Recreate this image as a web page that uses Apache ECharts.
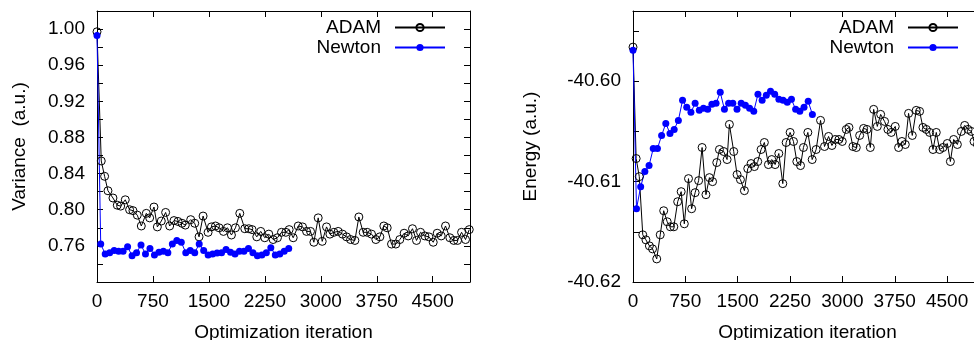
<!DOCTYPE html>
<html><head><meta charset="utf-8">
<script src="https://cdn.jsdelivr.net/npm/echarts@6/dist/echarts.min.js"></script>
<style>html,body{margin:0;padding:0;background:#fff}#c{width:974px;height:340px}</style>
</head><body><div id="c"></div>
<script>
// ---- data ----
const seriesNames = ['ADAM', 'Newton'];
const xTickLabels = [0, 750, 1500, 2250, 3000, 3750, 4500];
const varTickLabels = [0.76, 0.80, 0.84, 0.88, 0.92, 0.96, 1.00];
const enTickLabels = [-40.62, -40.61, -40.60];

// Left panel: variance
const adamVarIter = [0,57,102,147,214,272,317,379,437,482,540,594,661,706,764,809,862,920,974,1032,1086,1140,1184,1256,1310,1368,1422,1489,1534,1588,1637,1695,1749,1802,1856,1914,1981,2035,2079,2142,2195,2249,2303,2361,2419,2473,2531,2576,2630,2697,2755,2809,2862,2907,2965,3019,3077,3122,3175,3233,3291,3345,3399,3457,3510,3568,3622,3680,3738,3792,3845,3890,3948,4006,4059,4117,4171,4229,4283,4337,4395,4449,4507,4560,4614,4672,4730,4783,4833,4887,4940,4990];
const adamVar = [0.997,0.854,0.837,0.821,0.813,0.805,0.804,0.811,0.800,0.799,0.794,0.782,0.796,0.791,0.803,0.781,0.7875,0.797,0.782,0.788,0.787,0.785,0.783,0.789,0.785,0.770,0.793,0.775,0.781,0.782,0.780,0.776,0.780,0.772,0.780,0.796,0.779,0.779,0.778,0.770,0.776,0.769,0.773,0.767,0.769,0.775,0.775,0.778,0.769,0.782,0.781,0.776,0.776,0.764,0.791,0.765,0.781,0.773,0.775,0.776,0.773,0.770,0.767,0.766,0.792,0.775,0.775,0.773,0.767,0.770,0.782,0.780,0.762,0.762,0.767,0.774,0.771,0.779,0.766,0.775,0.771,0.770,0.764,0.774,0.771,0.782,0.769,0.766,0.766,0.775,0.767,0.778];
const newtonIter = [0,50,110,170,230,290,350,410,470,530,590,650,710,770,830,890,950,1010,1070,1130,1190,1250,1310,1370,1430,1490,1550,1610,1670,1730,1790,1850,1910,1970,2030,2090,2150,2210,2270,2330,2390,2450,2510,2570];
const newtonVar = [0.993,0.762,0.751,0.7525,0.755,0.754,0.754,0.759,0.749,0.7525,0.761,0.751,0.757,0.750,0.753,0.754,0.7525,0.762,0.766,0.764,0.7525,0.755,0.7525,0.762,0.755,0.750,0.751,0.752,0.7525,0.756,0.753,0.751,0.754,0.754,0.757,0.7525,0.749,0.750,0.7525,0.758,0.750,0.751,0.754,0.757];

// Right panel: energy
const adamEnIter = [0,45,90,140,185,235,280,340,390,440,490,535,585,640,690,735,795,840,890,940,990,1045,1095,1140,1200,1238,1300,1348,1381,1443,1491,1539,1596,1644,1692,1739,1787,1835,1882,1940,1988,2036,2089,2146,2194,2251,2299,2347,2400,2442,2505,2567,2624,2687,2744,2802,2850,2897,2950,2998,3056,3094,3151,3199,3247,3304,3352,3400,3448,3500,3548,3604,3652,3700,3757,3805,3853,3901,3948,4001,4058,4106,4154,4202,4250,4298,4345,4393,4441,4503,4547,4594,4647,4704,4752,4800,4848,4886,4935];
const adamEn = [-40.5966,-40.6077,-40.6095,-40.6153,-40.6158,-40.6164,-40.6167,-40.6177,-40.6153,-40.6129,-40.6140,-40.6145,-40.6145,-40.6120,-40.6110,-40.6142,-40.6097,-40.6127,-40.6111,-40.6099,-40.6066,-40.6113,-40.6096,-40.6100,-40.6081,-40.6068,-40.6070,-40.6078,-40.6043,-40.6070,-40.6093,-40.6098,-40.6109,-40.6087,-40.6082,-40.6085,-40.6080,-40.6068,-40.6061,-40.6083,-40.6078,-40.6083,-40.6072,-40.6102,-40.6061,-40.6051,-40.6060,-40.6080,-40.6084,-40.6066,-40.6051,-40.6078,-40.6068,-40.6039,-40.6065,-40.6055,-40.6064,-40.6058,-40.6058,-40.6060,-40.6048,-40.6046,-40.6065,-40.6066,-40.6054,-40.6047,-40.6048,-40.6066,-40.6028,-40.6045,-40.6033,-40.6040,-40.6048,-40.6051,-40.6045,-40.6066,-40.6060,-40.6063,-40.6032,-40.6054,-40.6029,-40.6030,-40.6046,-40.6048,-40.6051,-40.6068,-40.6051,-40.6068,-40.6066,-40.6062,-40.6080,-40.6058,-40.6063,-40.6050,-40.6044,-40.6048,-40.6050,-40.6060,-40.6063];
const newtonEn = [-40.5969,-40.6127,-40.6105,-40.6090,-40.6084,-40.6067,-40.6067,-40.6054,-40.6042,-40.6052,-40.6048,-40.6039,-40.6019,-40.6026,-40.6031,-40.6022,-40.6029,-40.6027,-40.6028,-40.6023,-40.6022,-40.6011,-40.6028,-40.6022,-40.6022,-40.6028,-40.6022,-40.6024,-40.6027,-40.6030,-40.6013,-40.6019,-40.6014,-40.6010,-40.6013,-40.6018,-40.6019,-40.6021,-40.6018,-40.6028,-40.6030,-40.6026,-40.6020,-40.6033];

// ---- chart ----
const FONT = "'Liberation Sans', Arial, Helvetica, sans-serif";
const TXT = { color: '#000', fontFamily: FONT, fontSize: 19 };
const zip = (xs, ys) => xs.map((x, i) => [x, ys[i]]);
const inList = (list, v) => list.some(t => Math.abs(t - v) < 1e-7);

function xAxes(gi) {
  const common = {
    type: 'value', gridIndex: gi, min: 0, max: 5000, interval: 750,
    axisLine: { show: true, onZero: false, lineStyle: { color: '#000', width: 1 } },
    axisTick: { show: true, inside: true, length: 6, lineStyle: { color: '#000' } },
    splitLine: { show: false }
  };
  return [
    Object.assign({}, common, {
      position: 'bottom',
      name: 'Optimization iteration', nameLocation: 'middle', nameGap: 41, nameTextStyle: TXT,
      axisLabel: Object.assign({ margin: 10, formatter: v => inList(xTickLabels, v) ? String(v) : '' }, TXT)
    }),
    Object.assign({}, common, { position: 'top', axisLabel: { show: false } })
  ];
}
function yAxes(gi, min, max, interval, labels, fmt, name, nameGap) {
  const common = {
    type: 'value', gridIndex: gi, min: min, max: max, interval: interval,
    axisLine: { show: true, onZero: false, lineStyle: { color: '#000', width: 1 } },
    axisTick: { show: true, inside: true, length: 6, lineStyle: { color: '#000' } },
    splitLine: { show: false }
  };
  return [
    Object.assign({}, common, {
      position: 'left',
      name: name, nameLocation: 'middle', nameGap: nameGap, nameTextStyle: TXT,
      axisLabel: Object.assign({ margin: 12, formatter: v => inList(labels, v) ? fmt(v) : '' }, TXT)
    }),
    Object.assign({}, common, { position: 'right', axisLabel: { show: false } })
  ];
}

const adamStyle = {
  symbol: 'circle', symbolSize: 8,
  itemStyle: { color: 'transparent', borderColor: '#000', borderWidth: 1 },
  lineStyle: { color: '#000', width: 1 }
};
const newtonStyle = {
  symbol: 'circle', symbolSize: 7,
  itemStyle: { color: '#0000ff' },
  lineStyle: { color: '#0000ff', width: 1 }
};

const legendBase = {
  orient: 'vertical', top: 13, align: 'right',
  itemWidth: 50, itemHeight: 9, itemGap: 1,
  textStyle: Object.assign({ padding: [0, 9, 0, 0] }, TXT),
  data: seriesNames, selectedMode: false
};

const chart = echarts.init(document.getElementById('c'), null, { renderer: 'canvas' });
chart.setOption({
  animation: false,
  backgroundColor: '#fff',
  grid: [
    { left: 97, top: 11, width: 373, height: 271, outerBoundsMode: 'none', containLabel: false },
    { left: 633, top: 11, width: 349, height: 271, outerBoundsMode: 'none', containLabel: false }
  ],
  xAxis: xAxes(0).concat(xAxes(1)),
  yAxis: yAxes(0, 0.72, 1.02, 0.02, varTickLabels, v => v.toFixed(2), 'Variance  (a.u.)', 68)
    .concat(yAxes(1, -40.62, -40.593, 0.005, enTickLabels, v => v.toFixed(2), 'Energy (a.u.)', 93)),
  legend: [
    Object.assign({}, legendBase, { right: 523 }),
    Object.assign({}, legendBase, { right: 10 })
  ],
  series: [
    Object.assign({ type: 'line', name: seriesNames[0], xAxisIndex: 0, yAxisIndex: 0, data: zip(adamVarIter, adamVar) }, adamStyle),
    Object.assign({ type: 'line', name: seriesNames[1], xAxisIndex: 0, yAxisIndex: 0, data: zip(newtonIter, newtonVar) }, newtonStyle),
    Object.assign({ type: 'line', name: seriesNames[0], xAxisIndex: 2, yAxisIndex: 2, data: zip(adamEnIter, adamEn) }, adamStyle),
    Object.assign({ type: 'line', name: seriesNames[1], xAxisIndex: 2, yAxisIndex: 2, data: zip(newtonIter, newtonEn) }, newtonStyle)
  ]
});
</script></body></html>
